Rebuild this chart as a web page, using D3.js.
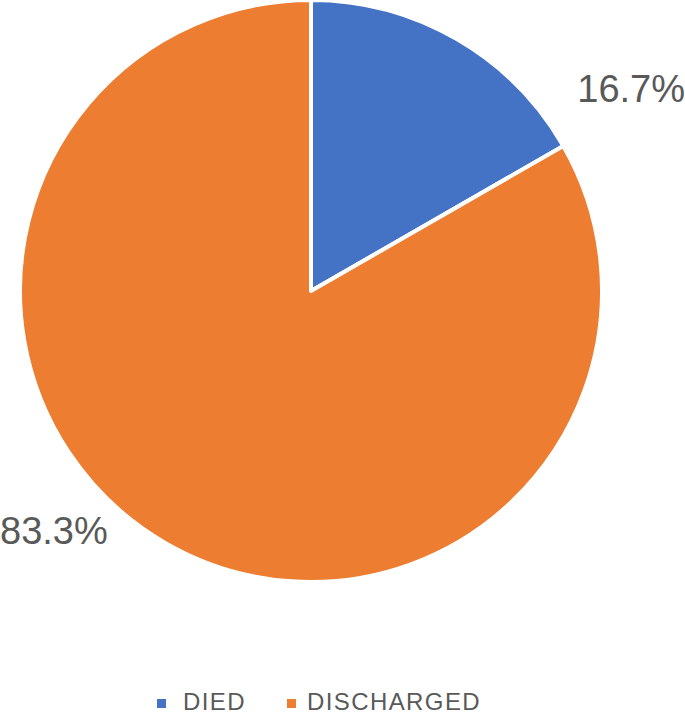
<!DOCTYPE html>
<html><head><meta charset="utf-8">
<script src="https://cdn.jsdelivr.net/npm/d3@7"></script>
<style>body{margin:0;background:#fff}svg{display:block}</style>
</head><body>
<svg id="c" width="685" height="716"></svg>
<script>
const categories = ["DIED", "DISCHARGED"];
const values = [16.7, 83.3];
const labels = ["16.7%", "83.3%"];
const colors = ["#4472C4", "#ED7D31"];

const svg = d3.select("#c");
const cx = 311, cy = 291, r = 291;
const g = svg.append("g").attr("transform", `translate(${cx},${cy})`);
const pie = d3.pie().sort(null).value(d => d);
const arcs = pie(values);
const arc = d3.arc().innerRadius(0).outerRadius(r);
const color = d3.scaleOrdinal().domain(categories).range(colors);

g.selectAll("path").data(arcs).enter().append("path")
  .attr("d", arc)
  .attr("fill", (d, i) => color(categories[i]))
  .attr("stroke", "#fff").attr("stroke-width", 4).attr("stroke-linejoin", "round");

// labels (Excel-like outside placement)
const font = "'Liberation Sans', Arial, sans-serif";
const lab = [
  {x: 685 - cx, y: 102 - cy, anchor: "end"},
  {x: 0 - cx, y: 544 - cy, anchor: "start"}
];
g.selectAll("text.lbl").data(arcs).enter().append("text")
  .attr("class", "lbl")
  .attr("x", (d, i) => lab[i].x).attr("y", (d, i) => lab[i].y)
  .attr("text-anchor", (d, i) => lab[i].anchor)
  .attr("font-family", font).attr("font-size", 38).attr("fill", "#595959")
  .text((d, i) => labels[i]);

// legend
const leg = svg.append("g");
const legX = [157, 287];
const legTextX = [183, 307];
categories.forEach((c, i) => {
  leg.append("rect").attr("x", legX[i]).attr("y", 699).attr("width", 9).attr("height", 9).attr("fill", color(c));
  leg.append("text").attr("x", legTextX[i]).attr("y", 710)
    .attr("font-family", font).attr("font-size", 24).attr("fill", "#595959")
    .attr("letter-spacing", 1.4).text(c);
});
</script>
</body></html>
